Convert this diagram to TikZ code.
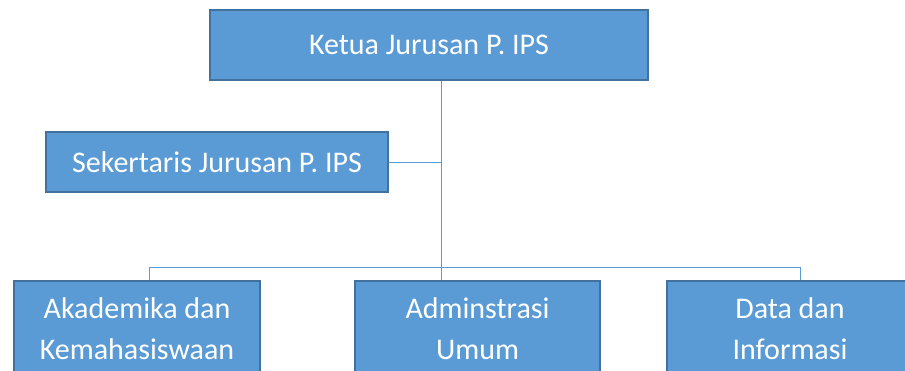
\documentclass[tikz,border=0pt]{standalone}
\usepackage{fontspec}
\setmainfont{Carlito}
\usetikzlibrary{calc}
\definecolor{boxblue}{HTML}{5B9BD5}
\definecolor{boxedge}{HTML}{41719C}
\begin{document}
\begin{tikzpicture}[x=1pt,y=-1pt,
    jabatan/.style={draw=boxedge,line width=1.5pt,fill=boxblue,text=white,
      font=\fontsize{30}{41}\selectfont,align=center,inner sep=0pt},
    garis/.style={draw=boxblue,line width=0.9pt}]
  \clip(0,0)rectangle(905,371);
  \node[jabatan,minimum width=438pt,minimum height=70pt] (ketua) at (429,45) {Ketua Jurusan P. IPS};
  \node[jabatan,minimum width=342pt,minimum height=60pt] (sek) at (217,162) {Sekertaris Jurusan P. IPS};
  \node[jabatan,minimum width=246pt,minimum height=96pt] (aka) at (137,329) {Akademika dan\\Kemahasiswaan};
  \node[jabatan,minimum width=245pt,minimum height=96pt] (adm) at (477.5,329) {Adminstrasi\\Umum};
  \node[jabatan,minimum width=246pt,minimum height=96pt] (data) at (790,329) {Data dan\\Informasi};
  \coordinate (trunk) at ($(ketua.south)+(12,0)$);
  \coordinate (busL) at (149,267);
  \coordinate (busR) at (800,267);
  \draw[garis](trunk)--(trunk|-adm.north);
  \draw[garis](sek.east)--(sek.east-|trunk);
  \draw[garis](busL)--(busR);
  \draw[garis](busL)--(busL|-aka.north) (busR)--(busR|-data.north);
\end{tikzpicture}
\end{document}
